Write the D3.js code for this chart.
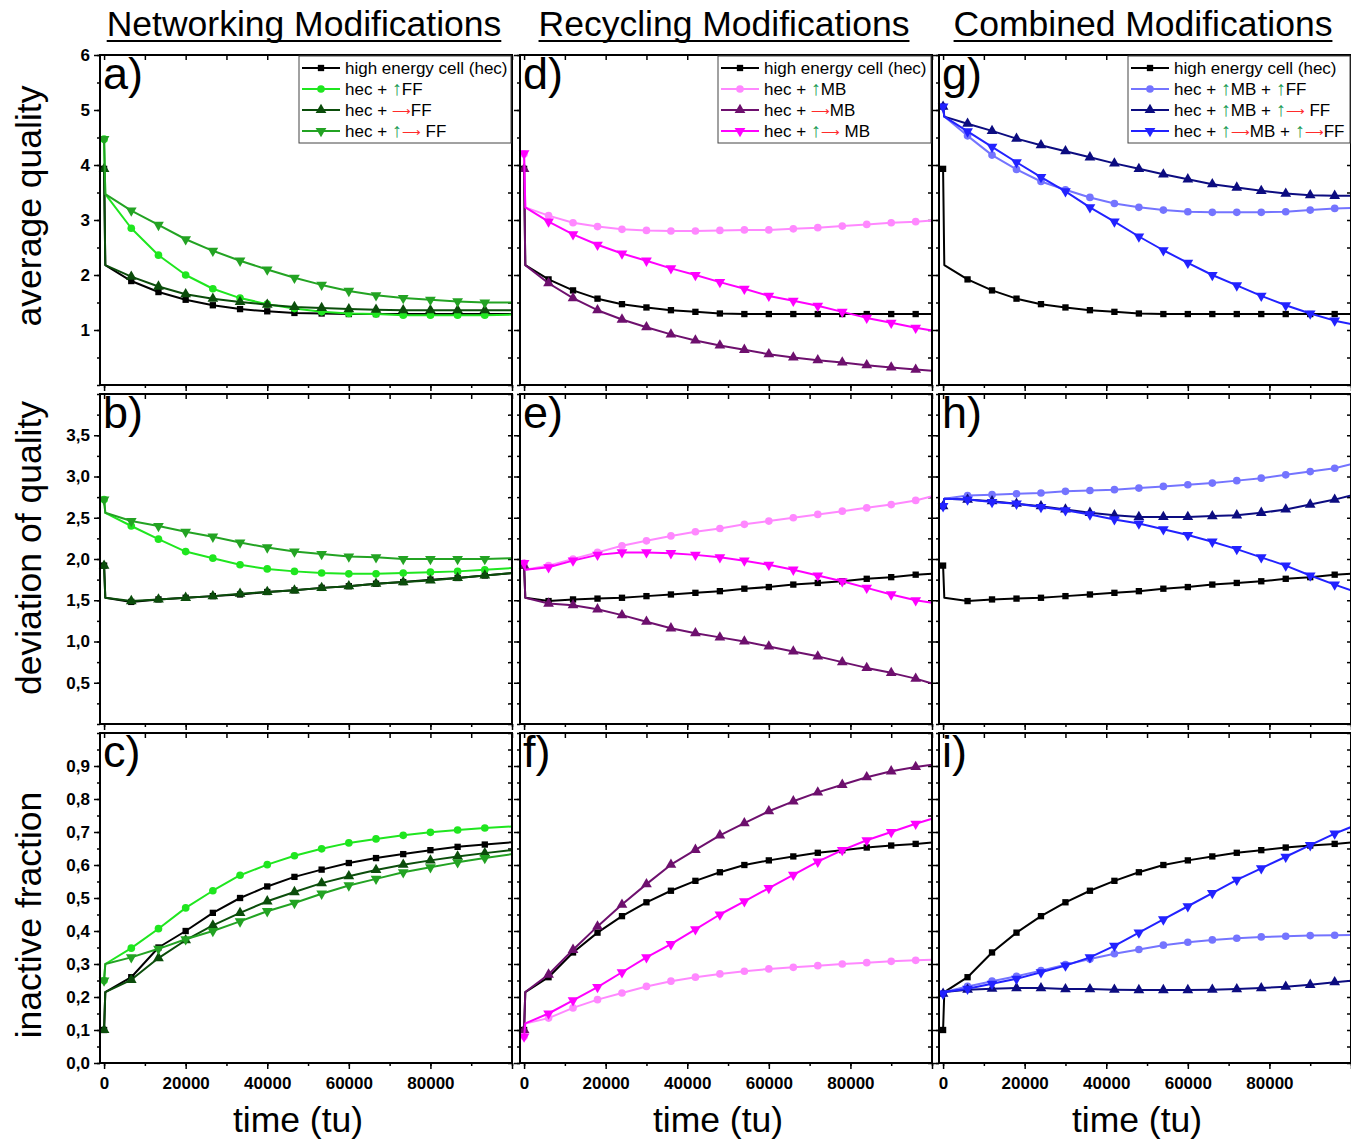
<!DOCTYPE html>
<html lang="en">
<head>
    <meta charset="UTF-8">
    <title>High energy cell modifications</title>
    <script src="https://d3js.org/d3.v7.min.js"></script>
    <style>
        body { margin: 0; background: #fff; }
        svg { display: block; font-family: "Liberation Sans", Arial, sans-serif; }
    </style>
</head>
<body>
    <svg width="1351" height="1141" id="chart"></svg>

    <script>
        // time grids (tu): first column has markers every 6667 tu, the other two every 6000 tu
        const timeNet = [0, 300, 6667, 13333, 20000, 26667, 33333, 40000, 46667, 53333, 60000,
            66667, 73333, 80000, 86667, 93333, 100000];
        const timeRec = [0, 300, 6000, 12000, 18000, 24000, 30000, 36000, 42000, 48000, 54000,
            60000, 66000, 72000, 78000, 84000, 90000, 96000, 100000];

        const columnTitles = ["Networking Modifications", "Recycling Modifications", "Combined Modifications"];
        const rowLabels = ["average quality", "deviation of quality", "inactive fraction"];
        const panelLetters = [["a)", "b)", "c)"], ["d)", "e)", "f)"], ["g)", "h)", "i)"]];
        const xTicks = [0, 20000, 40000, 60000, 80000];
        const yTicksQuality = [1, 2, 3, 4, 5, 6];
        const yTicksDeviation = [0.5, 1, 1.5, 2, 2.5, 3, 3.5];
        const yTicksInactive = [0, 0.1, 0.2, 0.3, 0.4, 0.5, 0.6, 0.7, 0.8, 0.9];

        // legend labels: ^ = green up arrow, > = red right arrow
        const legendNet = ["high energy cell (hec)", "hec + ^FF", "hec + >FF", "hec + ^> FF"];
        const legendRec = ["high energy cell (hec)", "hec + ^MB", "hec + >MB", "hec + ^> MB"];
        const legendComb = ["high energy cell (hec)", "hec + ^MB + ^FF", "hec + ^MB + ^> FF", "hec + ^>MB + ^>FF"];

        // a) average quality, networking
        const aHec = [3.93, 2.18, 1.89, 1.69, 1.55, 1.45, 1.38, 1.34, 1.31, 1.30, 1.29, 1.29, 1.29, 1.29, 1.29, 1.29, 1.29];
        const aUpFF = [4.47, 3.47, 2.85, 2.36, 2.00, 1.75, 1.58, 1.47, 1.39, 1.33, 1.30, 1.29, 1.27, 1.27, 1.27, 1.27, 1.28];
        const aRightFF = [3.93, 2.18, 1.97, 1.79, 1.65, 1.57, 1.51, 1.46, 1.42, 1.40, 1.38, 1.37, 1.36, 1.36, 1.36, 1.36, 1.36];
        const aUpRightFF = [4.47, 3.47, 3.17, 2.91, 2.65, 2.44, 2.26, 2.10, 1.95, 1.82, 1.71, 1.63, 1.58, 1.55, 1.52, 1.50, 1.50];
        // b) deviation of quality, networking
        const bHec = [1.92, 1.53, 1.48, 1.51, 1.53, 1.55, 1.57, 1.60, 1.62, 1.65, 1.67, 1.70, 1.72, 1.75, 1.77, 1.80, 1.83];
        const bUpFF = [2.72, 2.56, 2.40, 2.24, 2.09, 2.01, 1.93, 1.88, 1.85, 1.83, 1.82, 1.82, 1.83, 1.84, 1.85, 1.87, 1.89];
        const bRightFF = [1.92, 1.53, 1.49, 1.51, 1.53, 1.55, 1.58, 1.60, 1.62, 1.65, 1.67, 1.70, 1.72, 1.74, 1.77, 1.80, 1.83];
        const bUpRightFF = [2.72, 2.56, 2.46, 2.40, 2.33, 2.27, 2.20, 2.14, 2.09, 2.06, 2.03, 2.02, 2.00, 2.00, 2.00, 2.00, 2.01];
        // c) inactive fraction, networking
        const cHec = [0.10, 0.215, 0.26, 0.35, 0.40, 0.455, 0.50, 0.535, 0.564, 0.586, 0.606, 0.621, 0.633, 0.645, 0.655, 0.662, 0.669];
        const cUpFF = [0.25, 0.30, 0.348, 0.407, 0.47, 0.522, 0.569, 0.601, 0.628, 0.649, 0.667, 0.679, 0.69, 0.699, 0.706, 0.712, 0.717];
        const cRightFF = [0.10, 0.215, 0.252, 0.318, 0.372, 0.417, 0.455, 0.49, 0.518, 0.545, 0.566, 0.585, 0.601, 0.614, 0.626, 0.636, 0.645];
        const cUpRightFF = [0.25, 0.30, 0.32, 0.346, 0.375, 0.40, 0.429, 0.46, 0.485, 0.513, 0.538, 0.558, 0.578, 0.593, 0.608, 0.621, 0.633];

        // hec reference on the 6000 tu grid (columns 2 and 3)
        const hecQuality = [3.93, 2.18, 1.92, 1.72, 1.57, 1.47, 1.41, 1.36, 1.33, 1.30, 1.29, 1.29, 1.29, 1.29, 1.29, 1.29, 1.29, 1.29, 1.29];
        const hecDeviation = [1.92, 1.53, 1.49, 1.51, 1.52, 1.53, 1.55, 1.57, 1.59, 1.61, 1.64, 1.66, 1.69, 1.71, 1.73, 1.76, 1.78, 1.81, 1.82];
        const hecInactive = [0.10, 0.215, 0.26, 0.335, 0.395, 0.445, 0.487, 0.522, 0.552, 0.578, 0.600, 0.614, 0.626, 0.637, 0.645, 0.653, 0.659, 0.664, 0.668];

        // d) e) f) recycling
        const dUpMB = [4.20, 3.23, 3.08, 2.95, 2.88, 2.83, 2.81, 2.80, 2.80, 2.81, 2.82, 2.82, 2.84, 2.86, 2.89, 2.92, 2.95, 2.97, 2.99];
        const dRightMB = [3.93, 2.18, 1.85, 1.58, 1.36, 1.19, 1.05, 0.92, 0.81, 0.72, 0.64, 0.56, 0.50, 0.45, 0.41, 0.36, 0.32, 0.28, 0.26];
        const dUpRightMB = [4.21, 3.23, 2.97, 2.74, 2.55, 2.39, 2.26, 2.12, 2.00, 1.87, 1.75, 1.62, 1.53, 1.44, 1.33, 1.22, 1.13, 1.04, 0.99];
        const eUpMB = [1.95, 1.87, 1.92, 2.00, 2.08, 2.16, 2.22, 2.28, 2.33, 2.37, 2.42, 2.46, 2.50, 2.54, 2.58, 2.62, 2.66, 2.71, 2.76];
        const eRightMB = [1.92, 1.53, 1.46, 1.44, 1.39, 1.32, 1.24, 1.16, 1.10, 1.05, 1.00, 0.94, 0.88, 0.82, 0.75, 0.68, 0.62, 0.55, 0.49];
        const eUpRightMB = [1.95, 1.87, 1.90, 1.98, 2.05, 2.08, 2.08, 2.07, 2.05, 2.02, 1.98, 1.93, 1.87, 1.80, 1.73, 1.65, 1.57, 1.50, 1.47];
        const fUpMB = [0.08, 0.12, 0.136, 0.167, 0.192, 0.212, 0.232, 0.248, 0.26, 0.27, 0.278, 0.285, 0.29, 0.295, 0.30, 0.304, 0.308, 0.311, 0.313];
        const fRightMB = [0.10, 0.215, 0.268, 0.343, 0.414, 0.48, 0.542, 0.601, 0.646, 0.69, 0.727, 0.763, 0.793, 0.82, 0.843, 0.866, 0.884, 0.897, 0.904];
        const fUpRightMB = [0.08, 0.12, 0.15, 0.19, 0.23, 0.275, 0.32, 0.36, 0.405, 0.45, 0.49, 0.53, 0.57, 0.61, 0.645, 0.675, 0.70, 0.725, 0.74];

        // g) h) i) combined
        const gUpUp = [5.06, 4.88, 4.53, 4.18, 3.92, 3.70, 3.55, 3.41, 3.30, 3.23, 3.18, 3.15, 3.14, 3.14, 3.14, 3.15, 3.18, 3.21, 3.22];
        const gUpUpRight = [5.06, 4.88, 4.75, 4.62, 4.48, 4.36, 4.25, 4.14, 4.03, 3.93, 3.83, 3.74, 3.65, 3.59, 3.53, 3.48, 3.45, 3.44, 3.44];
        const gUpRightUpRight = [5.06, 4.88, 4.61, 4.33, 4.05, 3.78, 3.52, 3.23, 2.97, 2.70, 2.45, 2.22, 2.00, 1.81, 1.62, 1.45, 1.30, 1.17, 1.11];
        const hUpUp = [2.64, 2.73, 2.77, 2.78, 2.79, 2.80, 2.82, 2.83, 2.84, 2.86, 2.88, 2.90, 2.92, 2.95, 2.98, 3.02, 3.06, 3.10, 3.15];
        const hUpUpRight = [2.64, 2.73, 2.72, 2.70, 2.67, 2.64, 2.60, 2.56, 2.53, 2.51, 2.51, 2.51, 2.52, 2.53, 2.56, 2.60, 2.66, 2.72, 2.77];
        const hUpRightUpRight = [2.64, 2.73, 2.72, 2.69, 2.67, 2.63, 2.59, 2.54, 2.48, 2.43, 2.36, 2.29, 2.21, 2.12, 2.02, 1.92, 1.80, 1.69, 1.62];
        const iUpUp = [0.21, 0.215, 0.232, 0.248, 0.263, 0.28, 0.298, 0.315, 0.331, 0.344, 0.357, 0.366, 0.373, 0.378, 0.382, 0.384, 0.386, 0.387, 0.388];
        const iUpUpRight = [0.21, 0.215, 0.222, 0.225, 0.227, 0.227, 0.224, 0.224, 0.222, 0.221, 0.221, 0.221, 0.222, 0.224, 0.227, 0.231, 0.237, 0.245, 0.249];
        const iUpRightUpRight = [0.21, 0.215, 0.225, 0.24, 0.255, 0.275, 0.295, 0.32, 0.355, 0.395, 0.435, 0.475, 0.515, 0.555, 0.59, 0.625, 0.66, 0.695, 0.715];

        // line colours and marker shapes
        const styles = {
            hec: { color: "#000000", symbol: "square" },
            upFF: { color: "#1fe61f", symbol: "circle" },
            rightFF: { color: "#0b4d0b", symbol: "up" },
            upRightFF: { color: "#23a323", symbol: "down" },
            upMB: { color: "#ff88ff", symbol: "circle" },
            rightMB: { color: "#6e106e", symbol: "up" },
            upRightMB: { color: "#ff00ff", symbol: "down" },
            upUp: { color: "#7474ff", symbol: "circle" },
            upUpRight: { color: "#0c0c80", symbol: "up" },
            upRightUpRight: { color: "#2222ff", symbol: "down" }
        };
        const upArrowColor = "#1c9a55";
        const rightArrowColor = "#ff2b2b";

        const panels = [
            { col: 0, row: 0, time: timeNet, legend: legendNet, series: [[aHec, "hec"], [aUpFF, "upFF"], [aRightFF, "rightFF"], [aUpRightFF, "upRightFF"]] },
            { col: 0, row: 1, time: timeNet, series: [[bHec, "hec"], [bUpFF, "upFF"], [bRightFF, "rightFF"], [bUpRightFF, "upRightFF"]] },
            { col: 0, row: 2, time: timeNet, series: [[cHec, "hec"], [cUpFF, "upFF"], [cRightFF, "rightFF"], [cUpRightFF, "upRightFF"]] },
            { col: 1, row: 0, time: timeRec, legend: legendRec, series: [[hecQuality, "hec"], [dUpMB, "upMB"], [dRightMB, "rightMB"], [dUpRightMB, "upRightMB"]] },
            { col: 1, row: 1, time: timeRec, series: [[hecDeviation, "hec"], [eUpMB, "upMB"], [eRightMB, "rightMB"], [eUpRightMB, "upRightMB"]] },
            { col: 1, row: 2, time: timeRec, series: [[hecInactive, "hec"], [fUpMB, "upMB"], [fRightMB, "rightMB"], [fUpRightMB, "upRightMB"]] },
            { col: 2, row: 0, time: timeRec, legend: legendComb, series: [[hecQuality, "hec"], [gUpUp, "upUp"], [gUpUpRight, "upUpRight"], [gUpRightUpRight, "upRightUpRight"]] },
            { col: 2, row: 1, time: timeRec, series: [[hecDeviation, "hec"], [hUpUp, "upUp"], [hUpUpRight, "upUpRight"], [hUpRightUpRight, "upRightUpRight"]] },
            { col: 2, row: 2, time: timeRec, series: [[hecInactive, "hec"], [iUpUp, "upUp"], [iUpUpRight, "upUpRight"], [iUpRightUpRight, "upRightUpRight"]] }
        ];

        // layout
        const W = 412, H = 330;
        const colX = [100, 520, 939];
        const rowY = [55, 394, 733];
        const rowLabelY = [206, 548, 915];
        const legendLeft = [199, 198, 189];

        const svg = d3.select("#chart");

        const x = d3.scaleLinear().domain([-1000, 100000]).range([0, W]);
        const yScales = [
            d3.scaleLinear().domain([0, 6]).range([H, 0]),
            d3.scaleLinear().domain([0, 4]).range([H, 0]),
            d3.scaleLinear().domain([0, 1]).range([H, 0])
        ];
        const yMajor = [yTicksQuality, yTicksDeviation, yTicksInactive];
        const yMinorStep = [0.5, 0.25, 0.05];
        const comma = v => d3.format(".1f")(v).replace(".", ",");
        const yFormat = [d3.format("d"), comma, comma];
        const xMinor = d3.range(0, 100001, 10000);
        const xMajor = d3.range(0, 100001, 20000);

        const symbolTypes = { square: d3.symbolSquare, circle: d3.symbolCircle, up: d3.symbolTriangle, down: d3.symbolTriangle };
        const symbolSize = { square: 40, circle: 46, up: 50, down: 50 };

        //writes a label with coloured arrows into a text element
        function arrowText(sel, label) {
            label.split(/([\^>])/).filter(s => s).forEach(s => {
                if (s === "^") sel.append("tspan").attr("fill", upArrowColor).attr("font-size", 20).text("↑");
                else if (s === ">") sel.append("tspan").attr("fill", rightArrowColor).attr("font-size", 13).text("⟶");
                else sel.append("tspan").attr("font-size", null).text(s);
            });
        }

        function styleAxis(g) {
            g.select(".domain").remove();
            g.selectAll("line").attr("stroke", "#000").attr("stroke-width", 1.5);
        }

        panels.forEach(p => {
            const g = svg.append("g").attr("transform", `translate(${colX[p.col]},${rowY[p.row]})`);
            const y = yScales[p.row];
            const minor = d3.range(0, y.domain()[1] + 1e-9, yMinorStep[p.row]).map(v => +v.toFixed(3));

            //left axis, outward ticks, labels on first column only
            g.append("g").call(d3.axisLeft(y).tickValues(minor).tickSize(3).tickFormat("")).call(styleAxis);
            const left = g.append("g").call(d3.axisLeft(y).tickValues(yMajor[p.row]).tickSize(6).tickPadding(4)
                .tickFormat(p.col === 0 ? yFormat[p.row] : "")).call(styleAxis);
            left.selectAll("text").attr("font-size", 17).attr("font-weight", "bold")
                .attr("font-family", "'Liberation Sans', Arial, sans-serif").attr("fill", "#000");
            //right axis, inward ticks
            g.append("g").attr("transform", `translate(${W},0)`)
                .call(d3.axisRight(y).tickValues(minor).tickSize(-4).tickFormat("")).call(styleAxis);

            //bottom axis, outward ticks, labels on last row only
            g.append("g").attr("transform", `translate(0,${H})`)
                .call(d3.axisBottom(x).tickValues(xMinor).tickSize(3).tickFormat("")).call(styleAxis);
            const bottom = g.append("g").attr("transform", `translate(0,${H})`)
                .call(d3.axisBottom(x).tickValues(xMajor).tickSize(6).tickPadding(8)
                    .tickFormat(d => (p.row === 2 && xTicks.includes(d)) ? d3.format("d")(d) : "")).call(styleAxis);
            bottom.selectAll("text").attr("font-size", 17).attr("font-weight", "bold")
                .attr("font-family", "'Liberation Sans', Arial, sans-serif").attr("fill", "#000");
            //top axis, inward ticks
            g.append("g").call(d3.axisTop(x).tickValues(xMinor).tickSize(-5).tickFormat("")).call(styleAxis);

            //series lines and markers
            p.series.forEach(([values, key]) => {
                const st = styles[key];
                const pts = p.time.map((t, i) => ({ t: t, v: values[i], i: i }));
                g.append("path")
                    .datum(pts)
                    .attr("fill", "none")
                    .attr("stroke", st.color)
                    .attr("stroke-width", 2)
                    .attr("stroke-linejoin", "round")
                    .attr("d", d3.line().x(d => x(d.t)).y(d => y(d.v)));
                g.selectAll(null)
                    .data(pts.filter(d => d.i !== 1 && d.i !== pts.length - 1))
                    .join("path")
                    .attr("transform", d => `translate(${x(d.t)},${y(d.v)})` + (st.symbol === "down" ? " rotate(180)" : ""))
                    .attr("d", d3.symbol(symbolTypes[st.symbol], symbolSize[st.symbol]))
                    .attr("fill", st.color);
            });

            //frame
            g.append("rect")
                .attr("width", W)
                .attr("height", H)
                .attr("fill", "none")
                .attr("stroke", "#000")
                .attr("stroke-width", 2);

            //panel letter
            g.append("text")
                .attr("x", 3)
                .attr("y", 34)
                .attr("font-size", 45)
                .text(panelLetters[p.col][p.row]);

            //legend in the top row
            if (p.legend) {
                const lx = legendLeft[p.col];
                const lg = g.append("g").attr("transform", `translate(${lx},1)`);
                lg.append("rect")
                    .attr("width", W - lx - 1)
                    .attr("height", 87)
                    .attr("fill", "#fff")
                    .attr("stroke", "#444")
                    .attr("stroke-width", 1);
                p.legend.forEach((label, i) => {
                    const st = styles[p.series[i][1]];
                    const cy = 12 + 21 * i;
                    lg.append("line")
                        .attr("x1", 3).attr("x2", 41)
                        .attr("y1", cy).attr("y2", cy)
                        .attr("stroke", st.color)
                        .attr("stroke-width", 2);
                    lg.append("path")
                        .attr("transform", `translate(22,${cy})` + (st.symbol === "down" ? " rotate(180)" : ""))
                        .attr("d", d3.symbol(symbolTypes[st.symbol], symbolSize[st.symbol]))
                        .attr("fill", st.color);
                    const t = lg.append("text")
                        .attr("x", 46)
                        .attr("y", cy + 6)
                        .attr("font-size", 17);
                    arrowText(t, label);
                    // shrink the longest label so it stays inside the box
                    const room = W - lx - 50;
                    const len = t.node().getComputedTextLength();
                    if (len > room) t.attr("font-size", 17 * room / len);
                });
            }
        });

        //column titles with underline
        columnTitles.forEach((title, i) => {
            const cx = colX[i] + W / 2 - 2;
            const t = svg.append("text")
                .attr("x", cx)
                .attr("y", 36)
                .attr("text-anchor", "middle")
                .attr("font-size", 35.5)
                .text(title);
            const len = t.node().getComputedTextLength();
            svg.append("line")
                .attr("x1", cx - len / 2).attr("x2", cx + len / 2)
                .attr("y1", 41).attr("y2", 41)
                .attr("stroke", "#000")
                .attr("stroke-width", 2);
        });

        //row labels
        rowLabels.forEach((label, i) => {
            svg.append("text")
                .attr("transform", `translate(41,${rowLabelY[i]}) rotate(-90)`)
                .attr("text-anchor", "middle")
                .attr("font-size", 35.5)
                .text(label);
        });

        //x axis labels
        colX.forEach(cx => {
            svg.append("text")
                .attr("x", cx + 198)
                .attr("y", 1132)
                .attr("text-anchor", "middle")
                .attr("font-size", 35.5)
                .text("time (tu)");
        });
    </script>
</body>
</html>
